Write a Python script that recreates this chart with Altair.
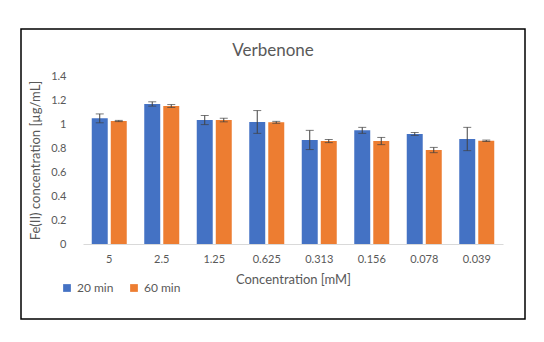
import altair as alt
import pandas as pd

concentrations = ["5", "2.5", "1.25", "0.625", "0.313", "0.156", "0.078", "0.039"]
series_names = ["20 min", "60 min"]
values_20 = [1.047, 1.167, 1.033, 1.017, 0.867, 0.947, 0.917, 0.875]
errors_20 = [0.037, 0.018, 0.038, 0.095, 0.080, 0.025, 0.012, 0.097]
values_60 = [1.025, 1.150, 1.033, 1.014, 0.858, 0.858, 0.783, 0.860]
errors_60 = [0.005, 0.012, 0.015, 0.008, 0.013, 0.030, 0.022, 0.006]
y_ticks = [0, 0.2, 0.4, 0.6, 0.8, 1.0, 1.2, 1.4]
chart_title = ["Verbenone"]

rows = []
for c, v, e in zip(concentrations, values_20, errors_20):
    rows.append({"conc": c, "series": series_names[0], "value": v, "lo": v - e, "hi": v + e})
for c, v, e in zip(concentrations, values_60, errors_60):
    rows.append({"conc": c, "series": series_names[1], "value": v, "lo": v - e, "hi": v + e})
df = pd.DataFrame(rows)

FONT = "Lato"
GREY = "#595959"

x_axis = alt.Axis(title="Concentration [mM]", labelAngle=0, ticks=False, domainColor="#D9D9D9",
                  labelPadding=9, titlePadding=9, labelFontSize=11, titleFontSize=13,
                  labelColor=GREY, titleColor=GREY, titleFontWeight="normal",
                  labelFont=FONT, titleFont=FONT)
y_axis = alt.Axis(title="Fe(II) concentration [µg/mL]", values=y_ticks, format="~g", domain=False,
                  ticks=False, grid=False, labelPadding=17, titlePadding=8, labelFontSize=11,
                  titleFontSize=13, labelColor=GREY, titleColor=GREY, titleFontWeight="normal",
                  labelFont=FONT, titleFont=FONT, labelOverlap=False)
x_scale = alt.Scale(paddingInner=1/3, paddingOuter=1/6)
y_scale = alt.Scale(domain=[0, 1.4])
xo_enc = alt.XOffset("series:N", sort=series_names, scale=alt.Scale(paddingInner=0.16, paddingOuter=0))

def xe():
    return alt.X("conc:N", sort=concentrations, scale=x_scale, axis=x_axis)

base = alt.Chart(df)

bars = base.mark_bar().encode(
    x=xe(),
    xOffset=xo_enc,
    y=alt.Y("value:Q", scale=y_scale, axis=y_axis),
    color=alt.Color("series:N", sort=series_names,
                    scale=alt.Scale(domain=series_names, range=["#4472C4", "#ED7D31"]),
                    legend=alt.Legend(title=None, orient="none", legendX=-22, legendY=206,
                                      direction="horizontal", symbolType="square", symbolSize=60,
                                      labelFontSize=12, labelColor=GREY, labelFont=FONT,
                                      columnPadding=14, symbolStrokeWidth=0)),
)

err_rule = base.mark_rule(color="#404040", strokeWidth=1).encode(
    x=xe(), xOffset=xo_enc,
    y=alt.Y("lo:Q", scale=y_scale, axis=y_axis), y2="hi:Q")
cap_top = base.mark_tick(color="#404040", thickness=1, size=8, orient="horizontal").encode(
    x=xe(), xOffset=xo_enc, y=alt.Y("hi:Q", scale=y_scale, axis=y_axis))
cap_bot = base.mark_tick(color="#404040", thickness=1, size=8, orient="horizontal").encode(
    x=xe(), xOffset=xo_enc, y=alt.Y("lo:Q", scale=y_scale, axis=y_axis))

border = alt.Chart(pd.DataFrame({"a": [0]})).mark_rect(fill="transparent", stroke="black", strokeWidth=1.5).encode(
    x=alt.value(-62), x2=alt.value(442), y=alt.value(-47), y2=alt.value(243))

title_mark = alt.Chart(pd.DataFrame({"t": chart_title})).mark_text(
    font=FONT, fontSize=17, color=GREY, align="center", baseline="middle").encode(
    text="t:N", x=alt.value(190), y=alt.value(-25))

chart = alt.layer(bars, err_rule, cap_top, cap_bot, border, title_mark).properties(
    width=420, height=168,
    autosize=alt.AutoSizeParams(type="none"),
    padding={"left": 75, "top": 68, "right": 30, "bottom": 80},
).configure_view(stroke=None)

chart.save("out.html", embed_options={"renderer": "svg", "actions": False})
